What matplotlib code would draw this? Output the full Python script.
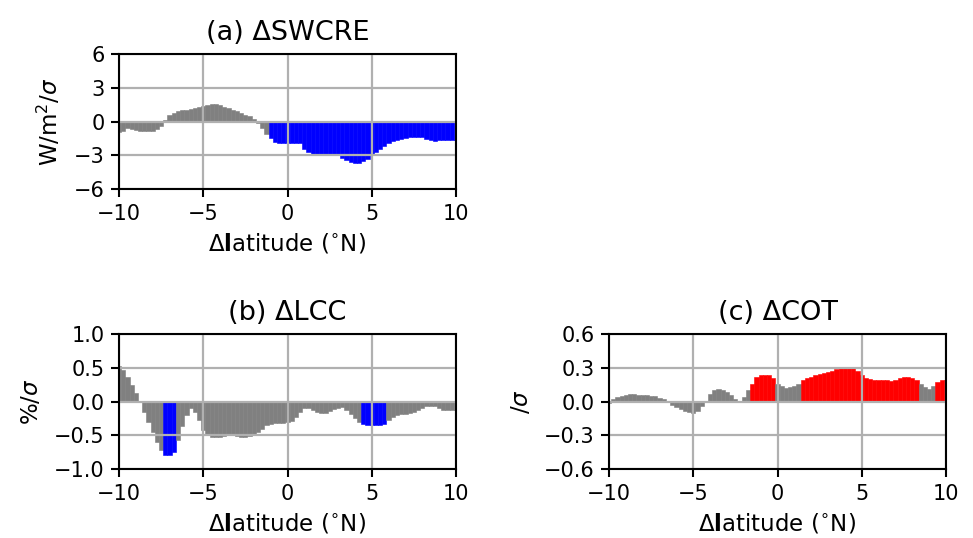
import numpy as np
import matplotlib
matplotlib.use("Agg")
import matplotlib.pyplot as plt

plt.rcParams['xtick.labelsize'] = 15
plt.rcParams['ytick.labelsize'] = 15

# ---------------- data (0.25 deg spacing, -10 .. 10) ----------------
lat = np.arange(-10, 10.001, 0.25)

swcre = [-0.95, -0.8, -0.62, -0.65, -0.75, -0.8, -0.82, -0.8, -0.8, -0.7,
         -0.4, 0.1, 0.55, 0.8, 0.95, 1.0, 1.05, 1.1, 1.2, 1.3,
         1.4, 1.45, 1.52, 1.53, 1.45, 1.3, 1.17, 1.0, 0.9, 0.75,
         0.6, 0.45, 0.2, -0.1, -0.6, -1.1, -1.5, -1.8, -1.9, -1.92,
         -1.94, -1.9, -1.88, -1.95, -2.4, -2.7, -2.85, -2.92, -2.92, -2.92,
         -2.92, -2.92, -2.95, -3.2, -3.45, -3.6, -3.66, -3.65, -3.55, -3.3,
         -2.95, -2.7, -2.4, -2.15, -1.94, -1.75, -1.65, -1.55, -1.48, -1.4,
         -1.35, -1.35, -1.4, -1.52, -1.62, -1.7, -1.68, -1.65, -1.65, -1.64,
         -1.6]
swcre_sig = [(-1.0, 10.0)]

lcc = [0.53, 0.46, 0.36, 0.25, 0.13, 0.0, -0.15, -0.3, -0.45, -0.6,
       -0.72, -0.79, -0.79, -0.75, -0.57, -0.36, -0.2, -0.1, -0.15, -0.28,
       -0.42, -0.5, -0.52, -0.53, -0.53, -0.51, -0.5, -0.5, -0.51, -0.52,
       -0.52, -0.51, -0.49, -0.45, -0.4, -0.35, -0.33, -0.32, -0.32, -0.32,
       -0.31, -0.29, -0.23, -0.16, -0.1, -0.1, -0.12, -0.15, -0.17, -0.17,
       -0.14, -0.11, -0.09, -0.08, -0.12, -0.19, -0.25, -0.3, -0.34, -0.35,
       -0.35, -0.35, -0.35, -0.33, -0.27, -0.23, -0.2, -0.19, -0.18, -0.17,
       -0.15, -0.13, -0.1, -0.07, -0.06, -0.07, -0.09, -0.12, -0.13, -0.13,
       -0.13]
lcc_sig = [(-7.25, -6.75), (4.5, 5.75)]

cot = [-0.01, 0.02, 0.04, 0.05, 0.06, 0.064, 0.065, 0.062, 0.06, 0.055,
       0.05, 0.045, 0.035, 0.02, 0.0, -0.03, -0.05, -0.07, -0.085, -0.095,
       -0.1, -0.08, -0.04, 0.0, 0.07, 0.1, 0.108, 0.1, 0.085, 0.055,
       0.02, 0.0, 0.04, 0.1, 0.16, 0.22, 0.235, 0.235, 0.235, 0.21,
       0.16, 0.135, 0.122, 0.125, 0.14, 0.16, 0.19, 0.205, 0.22, 0.235,
       0.245, 0.25, 0.26, 0.275, 0.29, 0.3, 0.31, 0.31, 0.3, 0.275,
       0.235, 0.21, 0.2, 0.195, 0.19, 0.19, 0.188, 0.186, 0.195, 0.21,
       0.218, 0.217, 0.21, 0.195, 0.16, 0.13, 0.115, 0.135, 0.175, 0.19,
       0.19]
cot_sig = [(-1.5, -0.25), (1.5, 8.25), (9.5, 10.0)]

xticks = [-10, -5, 0, 5, 10]
xtick_labels = ["−10", "−5", "0", "5", "10"]
titles = ["(a) ΔSWCRE", "(b) ΔLCC", "(c) ΔCOT"]
ylabels = [r"W/m$^2$/$\sigma$", r"%/$\sigma$", r"/$\sigma$"]
yticks_list = [[-6, -3, 0, 3, 6], [-1.0, -0.5, 0.0, 0.5, 1.0], [-0.6, -0.3, 0.0, 0.3, 0.6]]
ytick_labels = [["−6", "−3", "0", "3", "6"],
                ["−1.0", "−0.5", "0.0", "0.5", "1.0"],
                ["−0.6", "−0.3", "0.0", "0.3", "0.6"]]
sig_colors = ["blue", "blue", "red"]
xlabel = r"Δ$\mathbf{l}$atitude ($^{\circ}$N)"

# ---------------- figure ----------------
W, H = 973, 538
fig = plt.figure(figsize=(W / 100, H / 100), dpi=100)

def rect(l, t, r, b):
    return [l / W, 1 - b / H, (r - l) / W, (b - t) / H]

positions = [rect(119, 54, 456, 189), rect(119, 334, 456, 469), rect(609, 334, 946, 469)]
datas = [swcre, lcc, cot]
sigs = [swcre_sig, lcc_sig, cot_sig]

for i in range(3):
    ax = fig.add_axes(positions[i])
    vals = np.array(datas[i])
    cols = []
    for x in lat:
        c = "gray"
        for (a, b) in sigs[i]:
            if a - 1e-6 <= x <= b + 1e-6:
                c = sig_colors[i]
        cols.append(c)
    ax.bar(lat, vals, width=0.25, color=cols, edgecolor=cols, linewidth=0.4, zorder=1)
    ax.set_axisbelow(False)
    ax.grid(True, color="#b0b0b0", linewidth=1.6, zorder=3)
    ax.set_xlim(-10, 10)
    ax.set_ylim(yticks_list[i][0], yticks_list[i][-1])
    ax.set_xticks(xticks)
    ax.set_xticklabels(xtick_labels, fontsize=15)
    ax.set_yticks(yticks_list[i])
    ax.set_yticklabels(ytick_labels[i], fontsize=15)
    ax.tick_params(width=1.5, length=6, pad=4.5)
    for s in ax.spines.values():
        s.set_linewidth(1.5)
        s.set_zorder(4)
    ax.set_title(titles[i], fontsize=19.5, pad=10)
    ax.set_xlabel(xlabel, fontsize=16.5, labelpad=6)
    ax.set_ylabel(ylabels[i], fontsize=16.5, labelpad=8)

fig.savefig("out.png", dpi=100)
